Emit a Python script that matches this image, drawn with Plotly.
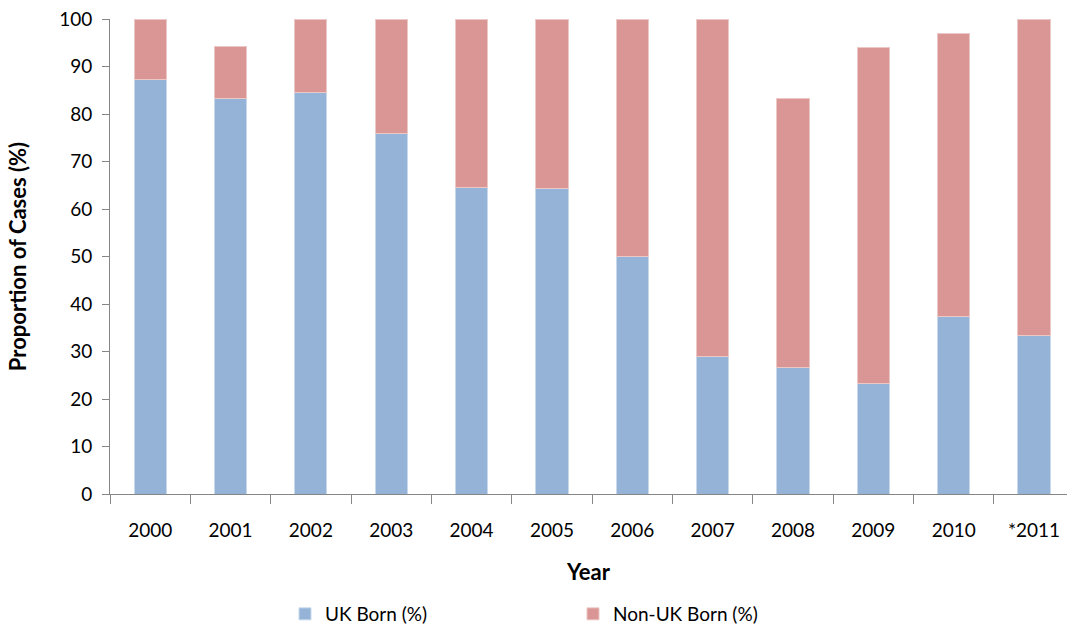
import plotly.graph_objects as go

years = ["2000", "2001", "2002", "2003", "2004", "2005",
         "2006", "2007", "2008", "2009", "2010", "*2011"]
uk_born = [87.2, 83.3, 84.6, 76.0, 64.5, 64.3, 50.0, 29.0, 26.7, 23.3, 37.3, 33.3]
non_uk_born = [12.8, 11.0, 15.4, 24.0, 35.5, 35.7, 50.0, 71.0, 56.6, 70.7, 59.6, 66.7]

FONT = "Lato, 'Open Sans', sans-serif"
AXIS_GREY = "#868686"

fig = go.Figure()
fig.add_trace(go.Bar(
    x=years, y=uk_born, name="UK Born (%)",
    marker=dict(color="#95B3D7", line=dict(color="#C9D9EC", width=1)),
))
fig.add_trace(go.Bar(
    x=years, y=non_uk_born, name="Non-UK Born (%)",
    marker=dict(color="#D99694", line=dict(color="#ECC8C7", width=1)),
))

fig.update_layout(
    width=1067, height=630,
    barmode="stack", bargap=0.6,
    plot_bgcolor="white", paper_bgcolor="white",
    margin=dict(l=110, r=0, t=19, b=136, autoexpand=False),
    font=dict(family=FONT, size=18, color="#000000"),
    showlegend=True,
    legend=dict(orientation="h", traceorder="normal",
                xref="container", x=285 / 1067, xanchor="left",
                yref="container", y=(630 - 614) / 630, yanchor="middle",
                font=dict(size=19), itemwidth=30, entrywidth=243),
)

fig.update_xaxes(
    type="category", range=[-0.5, 11.41], automargin=False,
    showline=True, linecolor=AXIS_GREY, linewidth=1,
    ticks="outside", tickson="boundaries", ticklen=9, tickcolor=AXIS_GREY,
    ticklabelstandoff=19,
    showgrid=False,
    title=dict(text="<b>Year</b>", font=dict(size=22), standoff=24),
    tickfont=dict(size=19),
)
fig.update_yaxes(
    range=[0, 100], dtick=10, automargin=False,
    showline=True, linecolor=AXIS_GREY, linewidth=1,
    ticks="outside", ticklen=7, tickcolor=AXIS_GREY,
    ticklabelstandoff=6,
    showgrid=False, zeroline=False,
    title=dict(text="<b>Proportion of Cases (%)</b>", font=dict(size=22), standoff=26),
    tickfont=dict(size=19),
)

fig.write_html("out.html")
